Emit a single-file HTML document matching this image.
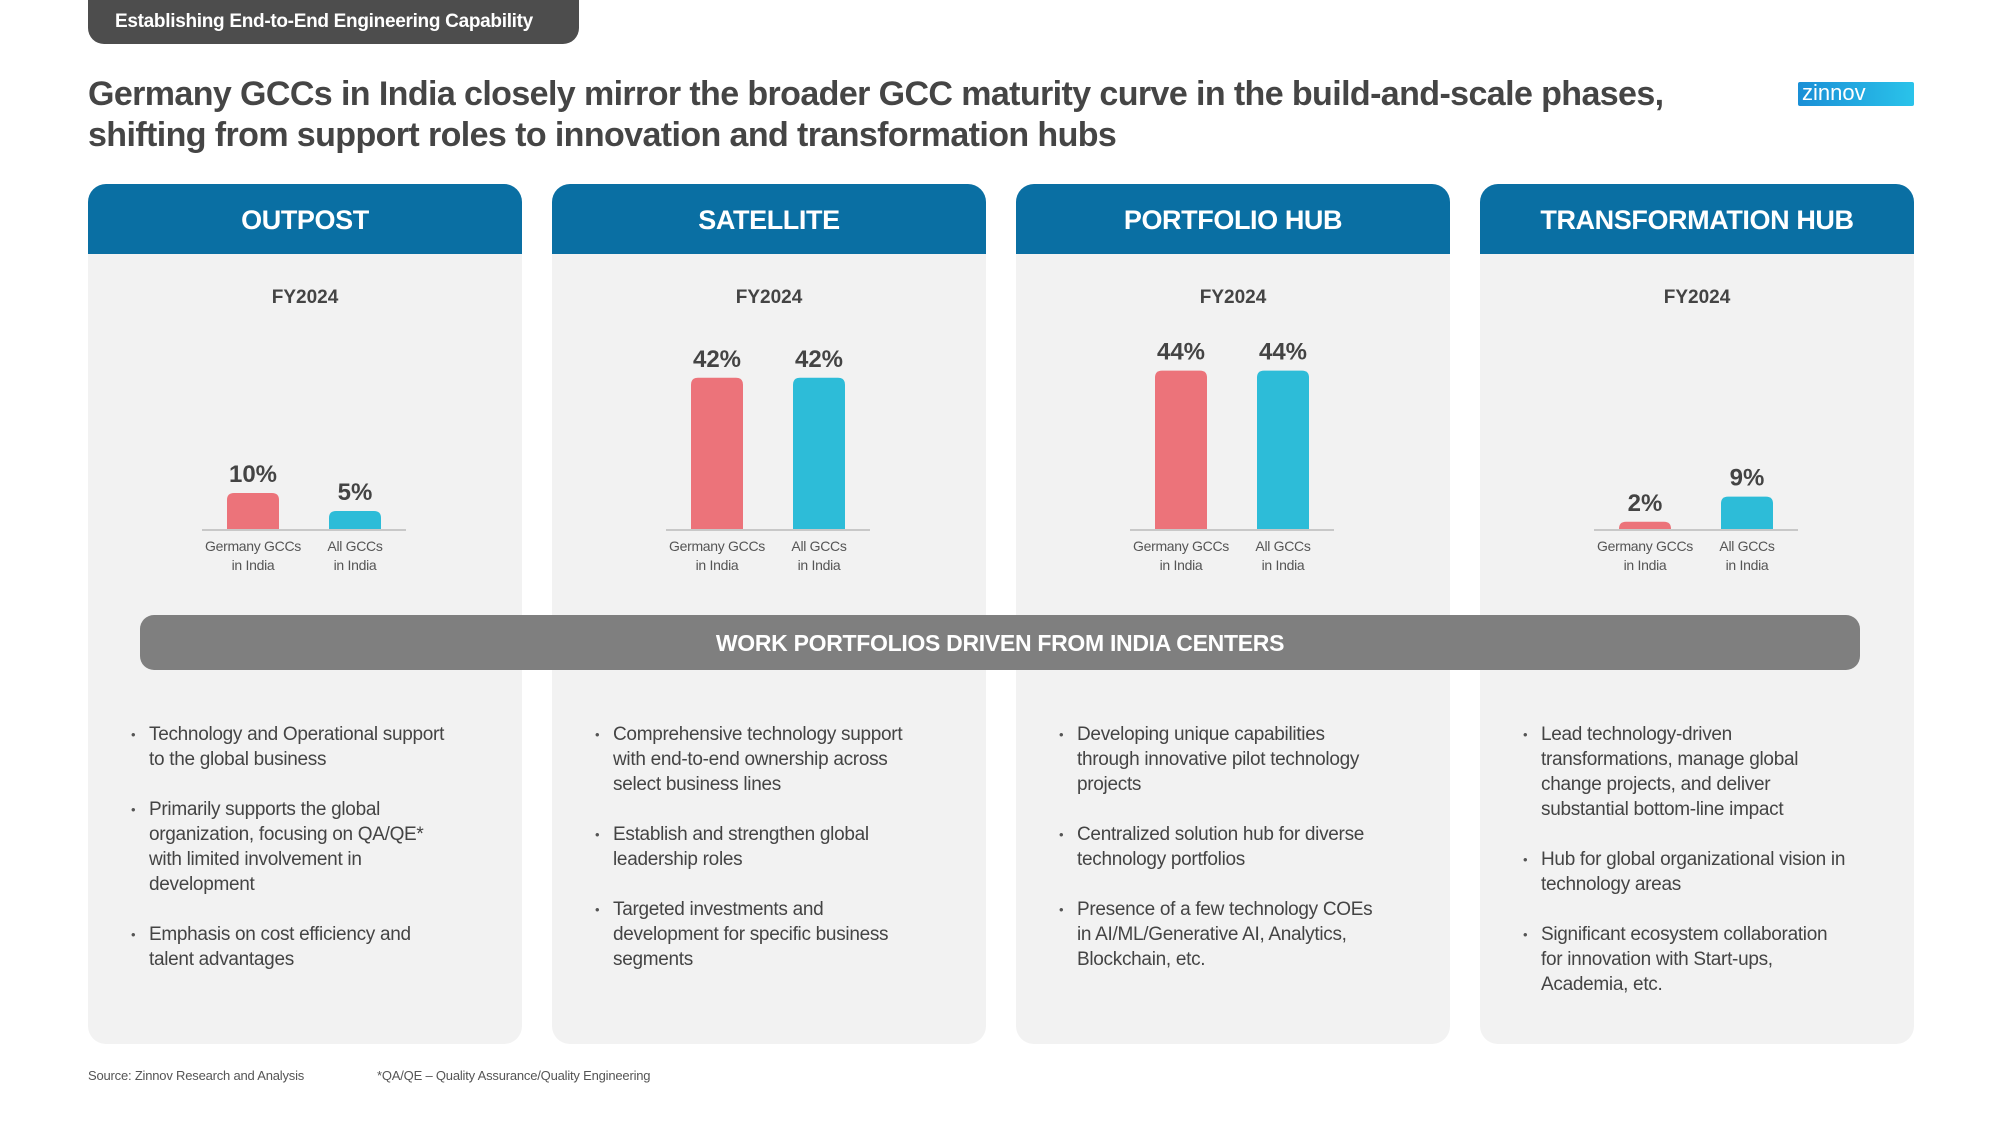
<!DOCTYPE html>
<html><head><meta charset="utf-8">
<style>
*{margin:0;padding:0;box-sizing:border-box}
body{width:2000px;height:1125px;background:#fff;font-family:"Liberation Sans",sans-serif;position:relative;overflow:hidden;color:#444}
.abs{position:absolute}
.tab{left:88px;top:0;width:491px;height:44px;background:#4d4d4d;border-radius:0 0 16px 16px;color:#fff;font-size:19px;line-height:44px;padding-left:27px;letter-spacing:-0.3px;font-weight:bold}
.title{left:88px;top:74px;font-size:34px;font-weight:bold;line-height:41px;color:#454545;letter-spacing:-0.6px}
.card{width:434px;top:184px;height:860px;background:#f2f2f2;border-radius:18px;overflow:hidden}
.hdr{height:70px;background:#0a6fa3;color:#fff;font-weight:bold;font-size:27px;text-align:center;line-height:72px;letter-spacing:-0.4px}
.fy{position:absolute;top:103px;width:100%;text-align:center;font-size:19px;font-weight:bold;color:#444}
.band{left:140px;top:615px;height:55px;background:#7f7f7f;border-radius:14px;color:#fff;font-weight:bold;font-size:23px;text-align:center;line-height:56px;letter-spacing:-0.3px}
ul{position:absolute;top:538px;left:44px;width:328px;list-style:none;font-size:19px;line-height:25px;color:#444;letter-spacing:-0.3px}
li{position:relative;padding-left:17px;margin-bottom:25px}
li:before{content:"•";position:absolute;left:-1px;font-size:13px;color:#555}
.foot{top:1068px;font-size:13px;color:#555;letter-spacing:-0.2px}
.logo{left:1798px;top:82px;width:116px;height:24px;background:linear-gradient(90deg,#1a8fd6,#2ac3ea);color:#fff;font-size:22px;line-height:22px;padding-left:4px;border-radius:2px}
</style></head><body>
<div class="abs tab">Establishing End-to-End Engineering Capability</div>
<div class="abs title">Germany GCCs in India closely mirror the broader GCC maturity curve in the build-and-scale phases,<br>shifting from support roles to innovation and transformation hubs</div>
<div class="abs logo">zinnov</div>

<div class="abs card" style="left:88px">
<div class="hdr">OUTPOST</div>
<div class="fy">FY2024</div>
<ul>
<li>Technology and Operational support to the global business</li>
<li>Primarily supports the global organization, focusing on QA/QE* with limited involvement in development</li>
<li>Emphasis on cost efficiency and talent advantages</li></ul></div>

<div class="abs card" style="left:552px">
<div class="hdr">SATELLITE</div>
<div class="fy">FY2024</div>
<ul>
<li>Comprehensive technology support with end-to-end ownership across select business lines</li>
<li>Establish and strengthen global leadership roles</li>
<li>Targeted investments and development for specific business segments</li></ul></div>

<div class="abs card" style="left:1016px">
<div class="hdr">PORTFOLIO HUB</div>
<div class="fy">FY2024</div>
<ul>
<li>Developing unique capabilities through innovative pilot technology projects</li>
<li>Centralized solution hub for diverse technology portfolios</li>
<li>Presence of a few technology COEs in AI/ML/Generative AI, Analytics, Blockchain, etc.</li></ul></div>

<div class="abs card" style="left:1480px">
<div class="hdr">TRANSFORMATION HUB</div>
<div class="fy">FY2024</div>
<ul>
<li>Lead technology-driven transformations, manage global change projects, and deliver substantial bottom-line impact</li>
<li>Hub for global organizational vision in technology areas</li>
<li>Significant ecosystem collaboration for innovation with Start-ups, Academia, etc.</li></ul></div>

<div class="abs band" style="width:1720px">WORK PORTFOLIOS DRIVEN FROM INDIA CENTERS</div>

<svg id="chart" class="abs" style="left:0;top:0" width="2000" height="1125"></svg>

<div class="abs foot" style="left:88px">Source: Zinnov Research and Analysis</div>
<div class="abs foot" style="left:377px">*QA/QE – Quality Assurance/Quality Engineering</div>

<script>
const stages = ["Outpost","Satellite","Portfolio Hub","Transformation Hub"];
const germanyValues = [10,42,44,2];
const allValues = [5,42,44,9];
const categoryLabels = [["Germany GCCs","in India"],["All GCCs","in India"]];

const NS="http://www.w3.org/2000/svg";
const svg=document.getElementById('chart');
const cardLeft=i=>88+i*464;
const baseY=529;
const yLen=v=>v*3.6;
const colors=["#ec737a","#2dbcd8"];
function mk(tag,attrs){const e=document.createElementNS(NS,tag);for(const k in attrs)e.setAttribute(k,attrs[k]);svg.appendChild(e);return e;}
stages.forEach((s,i)=>{
  const cx=cardLeft(i)+216;
  const ax=mk('line',{x1:cx-102,x2:cx+102,y1:baseY+1,y2:baseY+1,stroke:'#c8c8c8','stroke-width':2});
  
  
  [germanyValues[i],allValues[i]].forEach((v,j)=>{
    const x=cx+(j?51:-51)-26, h=yLen(v), r=Math.min(7,h);
    const p=mk('path',{d:`M${x},${baseY} V${baseY-h+r} Q${x},${baseY-h} ${x+r},${baseY-h} H${x+52-r} Q${x+52},${baseY-h} ${x+52},${baseY-h+r} V${baseY} Z`,fill:colors[j]});
    
    
    const t=mk('text',{x:x+26,y:baseY-h-11,'text-anchor':'middle','font-size':24,'font-weight':'bold',fill:'#444','font-family':'Liberation Sans'});
    t.textContent=v+'%';
    
    
    categoryLabels[j].forEach((ln,k)=>{
      const c=mk('text',{x:x+26,y:551+k*19,'text-anchor':'middle','font-size':14,fill:'#555','font-family':'Liberation Sans','letter-spacing':'-0.3'});
      c.textContent=ln;
      
      
    });
  });
});
</script>
</body></html>
